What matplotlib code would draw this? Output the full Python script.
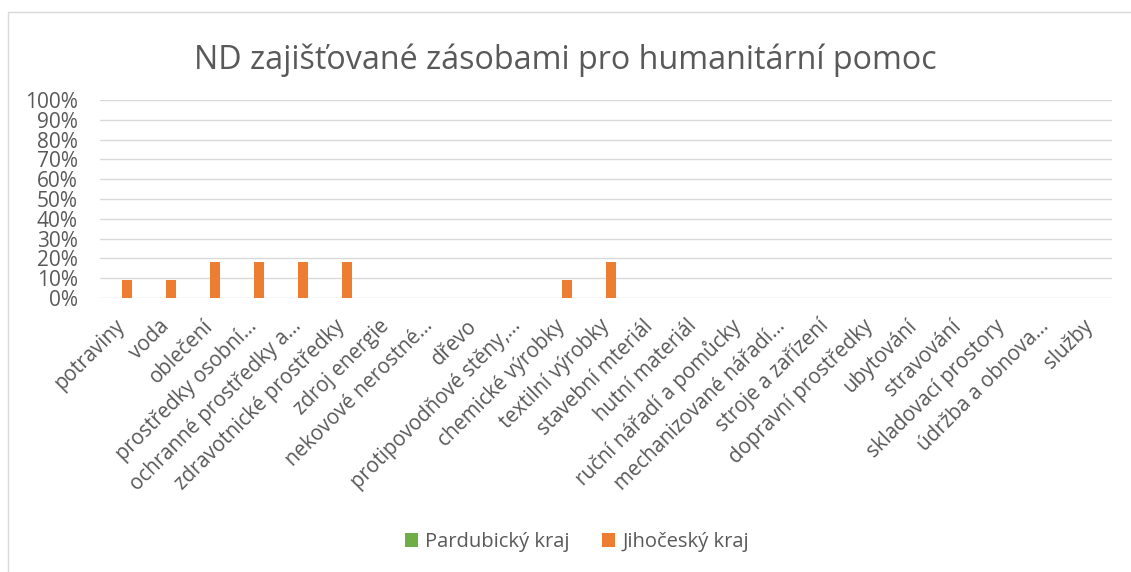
import matplotlib
matplotlib.use("Agg")
import matplotlib.pyplot as plt
import numpy as np
from matplotlib.patches import Rectangle

categories = ["potraviny", "voda", "oblečení", "prostředky osobní…", "ochranné prostředky a…",
              "zdravotnické prostředky", "zdroj energie", "nekovové nerostné…", "dřevo",
              "protipovodňové stěny,…", "chemické výrobky", "textilní výrobky", "stavební mteriál",
              "hutní materiál", "ruční nářadí a pomůcky", "mechanizované nářadí…", "stroje a zařízení",
              "dopravní prostředky", "ubytování", "stravování", "skladovací prostory",
              "údržba a obnova…", "služby"]
pardubicky = [0]*23
jihocesky = [0.0909, 0.0909, 0.1818, 0.1818, 0.1818, 0.1818, 0, 0, 0, 0, 0.0909, 0.1818,
             0, 0, 0, 0, 0, 0, 0, 0, 0, 0, 0]
yticks = [0, 0.1, 0.2, 0.3, 0.4, 0.5, 0.6, 0.7, 0.8, 0.9, 1.0]
ytick_labels = ["0%", "10%", "20%", "30%", "40%", "50%", "60%", "70%", "80%", "90%", "100%"]

plt.rcParams['font.family'] = ['Open Sans', 'DejaVu Sans']
txt = '#595959'

fig = plt.figure(figsize=(11.31, 5.72), dpi=100)
ax = fig.add_axes([100/1131, 1-298/572, 1012/1131, 198/572])

n = len(categories)
x = np.arange(n)
w = 0.23
ax.bar(x - w/2, pardubicky, w, color='#70ad47', label='Pardubický kraj')
ax.bar(x + w/2, jihocesky, w, color='#ed7d31', label='Jihočeský kraj')

ax.set_xlim(-0.5, n - 0.5)
ax.set_ylim(0, 1.0)
ax.set_yticks(yticks)
ax.set_yticklabels(ytick_labels, color=txt, fontsize=15)
ax.yaxis.grid(True, color='#d9d9d9', linewidth=1)
ax.set_axisbelow(True)
for s in ax.spines.values():
    s.set_visible(False)
ax.tick_params(axis='both', length=0)
ax.tick_params(axis='y', pad=16)
ax.set_xticks(x)
ax.set_xticklabels(categories, rotation=45, ha='right', va='center', rotation_mode='anchor',
                   color=txt, fontsize=14.8)
ax.tick_params(axis='x', pad=18)

fig.text(0.5, 1-60/572, "ND zajišťované zásobami pro humanitární pomoc", ha='center', va='center',
         fontsize=23.2, color=txt)

leg = fig.legend(loc='center', bbox_to_anchor=(577/1131, 1-542/572), ncol=2, frameon=False,
                 fontsize=14.5, handlelength=0.65, handleheight=0.65, columnspacing=1.6,
                 handletextpad=0.35)
for t in leg.get_texts():
    t.set_color(txt)

fig.patches.append(Rectangle((8/1131, -0.05), 1.0, 1.05-12/572, transform=fig.transFigure,
                             fill=False, edgecolor='#d9d9d9', linewidth=1))

fig.savefig("out.png", dpi=100)
